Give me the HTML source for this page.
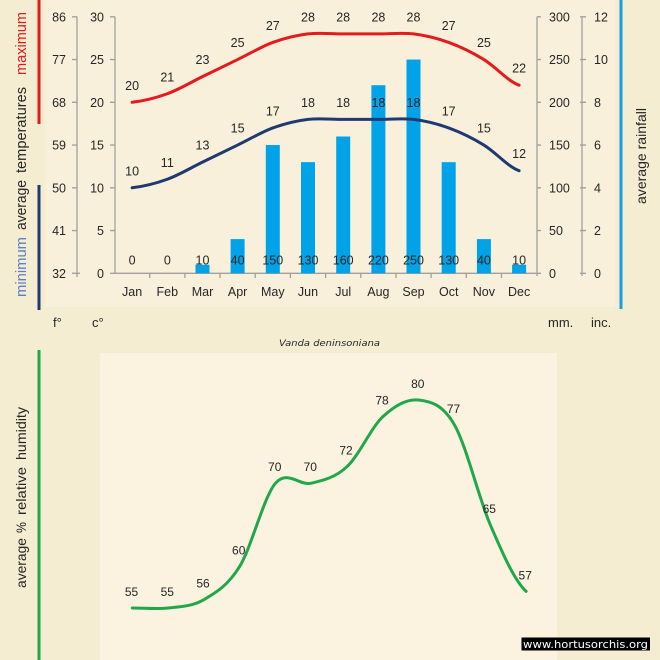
<!DOCTYPE html>
<html><head><meta charset="utf-8"><style>
html,body{margin:0;padding:0;background:#f4edd2;overflow:hidden;}
svg{display:block;}
</style></head><body>
<svg width="660" height="660" viewBox="0 0 660 660" xmlns="http://www.w3.org/2000/svg" font-family="'Liberation Sans', sans-serif">
<rect x="0" y="0" width="660" height="660" fill="#f4edd2"/>
<rect x="45" y="0" width="570" height="307" fill="#f9f0dc"/>
<rect x="100" y="353" width="457" height="307" fill="#fbf2e0"/>

<!-- colored side bars -->
<rect x="37.5" y="0" width="3" height="124" fill="#e41a1c"/>
<rect x="37.5" y="185" width="3" height="125" fill="#1f3a70"/>
<rect x="619.5" y="0" width="3" height="309" fill="#1aa0e0"/>
<rect x="37.5" y="350" width="3" height="310" fill="#20a84a"/>

<!-- rotated titles -->
<g font-size="14.5" fill="#262626">
<text transform="translate(26,297) rotate(-90)" textLength="60" lengthAdjust="spacingAndGlyphs" fill="#5b7fc9">minimum</text>
<text transform="translate(26,230) rotate(-90)" textLength="50" lengthAdjust="spacingAndGlyphs">average</text>
<text transform="translate(26,173) rotate(-90)" textLength="86" lengthAdjust="spacingAndGlyphs">temperatures</text>
<text transform="translate(26,75) rotate(-90)" textLength="63" lengthAdjust="spacingAndGlyphs" fill="#e41a1c">maximum</text>
</g>
<text transform="translate(646,204) rotate(-90)" font-size="14" fill="#262626" textLength="96" lengthAdjust="spacingAndGlyphs">average  rainfall</text>
<g font-size="14" fill="#262626">
<text transform="translate(26,588) rotate(-90)" textLength="50" lengthAdjust="spacingAndGlyphs">average</text>
<text transform="translate(26,533) rotate(-90)" textLength="11" lengthAdjust="spacingAndGlyphs">%</text>
<text transform="translate(26,515) rotate(-90)" textLength="48" lengthAdjust="spacingAndGlyphs">relative</text>
<text transform="translate(26,460) rotate(-90)" textLength="53" lengthAdjust="spacingAndGlyphs">humidity</text>
</g>

<!-- axes -->
<g stroke="#a0a0a0" stroke-width="1.3" fill="none">
<line x1="77" y1="16.8" x2="77" y2="277"/>
<line x1="115" y1="16.8" x2="115" y2="273.3"/>
<line x1="537" y1="16.8" x2="537" y2="276"/>
<line x1="582" y1="16.8" x2="582" y2="276"/>
<line x1="110" y1="273.3" x2="541" y2="273.3"/>
<path d="M72,16.8H77M72,59.55H77M72,102.3H77M72,145.05H77M72,187.8H77M72,230.55H77M72,273.3H80"/>
<path d="M110,16.8H115M110,59.55H115M110,102.3H115M110,145.05H115M110,187.8H115M110,230.55H115"/>
<path d="M537,16.8H541M537,59.55H541M537,102.3H541M537,145.05H541M537,187.8H541M537,230.55H541"/>
<path d="M580,16.8H586M580,59.55H586M580,102.3H586M580,145.05H586M580,187.8H586M580,230.55H586M580,273.3H586"/>
<path d="M149.7,273.3V278M184.9,273.3V278M220,273.3V278M255.2,273.3V278M290.4,273.3V278M325.6,273.3V278M360.8,273.3V278M396,273.3V278M431.1,273.3V278M466.3,273.3V278M501.5,273.3V278"/>
</g>

<!-- axis labels -->
<g font-size="12.5" fill="#262626" text-anchor="end">
<text x="66" y="21.3">86</text><text x="66" y="64">77</text><text x="66" y="106.8">68</text><text x="66" y="149.5">59</text><text x="66" y="192.3">50</text><text x="66" y="235">41</text><text x="66" y="277.8">32</text>
<text x="104" y="21.3">30</text><text x="104" y="64">25</text><text x="104" y="106.8">20</text><text x="104" y="149.5">15</text><text x="104" y="192.3">10</text><text x="104" y="235">5</text><text x="104" y="277.8">0</text>
</g>
<g font-size="12.5" fill="#262626">
<text x="549" y="21.3">300</text><text x="549" y="64">250</text><text x="549" y="106.8">200</text><text x="549" y="149.5">150</text><text x="549" y="192.3">100</text><text x="549" y="235">50</text><text x="549" y="277.8">0</text>
<text x="594" y="21.3">12</text><text x="594" y="64">10</text><text x="594" y="106.8">8</text><text x="594" y="149.5">6</text><text x="594" y="192.3">4</text><text x="594" y="235">2</text><text x="594" y="277.8">0</text>
</g>
<g font-size="12.5" fill="#262626" text-anchor="middle">
<text x="132.1" y="296">Jan</text><text x="167.3" y="296">Feb</text><text x="202.5" y="296">Mar</text><text x="237.6" y="296">Apr</text><text x="272.8" y="296">May</text><text x="308" y="296">Jun</text><text x="343.2" y="296">Jul</text><text x="378.4" y="296">Aug</text><text x="413.5" y="296">Sep</text><text x="448.7" y="296">Oct</text><text x="483.9" y="296">Nov</text><text x="519.1" y="296">Dec</text>
</g>
<g font-size="13" fill="#262626">
<text x="53" y="327">f°</text><text x="92" y="327">c°</text><text x="548" y="327">mm.</text><text x="591" y="327">inc.</text>
</g>

<!-- bars -->
<g fill="#00a2e8">
<rect x="195.5" y="264.75" width="14" height="8.55"/>
<rect x="230.6" y="239.1" width="14" height="34.2"/>
<rect x="265.8" y="145.05" width="14" height="128.25"/>
<rect x="301" y="162.15" width="14" height="111.15"/>
<rect x="336.2" y="136.5" width="14" height="136.8"/>
<rect x="371.4" y="85.2" width="14" height="188.1"/>
<rect x="406.5" y="59.55" width="14" height="213.75"/>
<rect x="441.7" y="162.15" width="14" height="111.15"/>
<rect x="476.9" y="239.1" width="14" height="34.2"/>
<rect x="512.1" y="264.75" width="14" height="8.55"/>
</g>

<!-- temperature lines -->
<path d="M132.1,102.3 C143.8,100.9 155.6,98.0 167.3,93.75 C179.0,89.5 190.7,82.4 202.5,76.65 C214.2,71.0 225.9,65.3 237.6,59.55 C249.4,53.9 261.1,46.7 272.8,42.45 C284.6,38.2 296.3,35.3 308.0,33.9 C319.7,32.5 331.5,33.9 343.2,33.9 C354.9,33.9 366.6,33.9 378.4,33.9 C390.1,33.9 401.8,32.5 413.5,33.9 C425.3,35.3 437.0,38.2 448.7,42.45 C460.5,46.7 472.2,52.4 483.9,59.55 C495.6,66.7 507.4,80.9 519.1,85.2" fill="none" stroke="#e41a1c" stroke-width="3" stroke-linecap="round"/>
<path d="M132.1,102.3 C143.8,100.9 155.6,98.0 167.3,93.75 C179.0,89.5 190.7,82.4 202.5,76.65 C214.2,71.0 225.9,65.3 237.6,59.55 C249.4,53.9 261.1,46.7 272.8,42.45 C284.6,38.2 296.3,35.3 308.0,33.9 C319.7,32.5 331.5,33.9 343.2,33.9 C354.9,33.9 366.6,33.9 378.4,33.9 C390.1,33.9 401.8,32.5 413.5,33.9 C425.3,35.3 437.0,38.2 448.7,42.45 C460.5,46.7 472.2,52.4 483.9,59.55 C495.6,66.7 507.4,80.9 519.1,85.2" transform="translate(0,85.5)" fill="none" stroke="#1f3a70" stroke-width="3" stroke-linecap="round"/>

<!-- data labels top -->
<g font-size="12.5" fill="#262626" text-anchor="middle">
<text x="132.1" y="89.8">20</text><text x="167.3" y="81.25">21</text><text x="202.5" y="64.15">23</text><text x="237.6" y="47.05">25</text><text x="272.8" y="29.95">27</text><text x="308" y="21.4">28</text><text x="343.2" y="21.4">28</text><text x="378.4" y="21.4">28</text><text x="413.5" y="21.4">28</text><text x="448.7" y="29.95">27</text><text x="483.9" y="47.05">25</text><text x="519.1" y="72.7">22</text>
<text x="132.1" y="175.3">10</text><text x="167.3" y="166.75">11</text><text x="202.5" y="149.65">13</text><text x="237.6" y="132.55">15</text><text x="272.8" y="115.45">17</text><text x="308" y="106.9">18</text><text x="343.2" y="106.9">18</text><text x="378.4" y="106.9">18</text><text x="413.5" y="106.9">18</text><text x="448.7" y="115.45">17</text><text x="483.9" y="132.55">15</text><text x="519.1" y="158.2">12</text>
<text x="132.1" y="264.5">0</text><text x="167.3" y="264.5">0</text><text x="202.5" y="264.5">10</text><text x="237.6" y="264.5">40</text><text x="272.8" y="264.5">150</text><text x="308" y="264.5">130</text><text x="343.2" y="264.5">160</text><text x="378.4" y="264.5">220</text><text x="413.5" y="264.5">250</text><text x="448.7" y="264.5">130</text><text x="483.9" y="264.5">40</text><text x="519.1" y="264.5">10</text>
</g>

<!-- title -->
<text x="329.5" y="346" font-family="'DejaVu Sans', sans-serif" font-style="italic" font-size="8.5" fill="#262626" text-anchor="middle" textLength="101" lengthAdjust="spacingAndGlyphs">Vanda deninsoniana</text>

<!-- humidity line -->
<path d="M132.3,608 C144.2,608 156.2,609.4 168.1,608 C180.0,606.6 192.0,606.6 203.9,599.68 C215.8,592.7 227.8,585.8 239.7,566.4 C251.6,547.0 263.6,497.1 275.5,483.2 C287.4,469.3 299.4,486.0 311.3,483.2 C323.2,480.4 335.2,477.7 347.1,466.56 C359.0,455.5 371.0,427.7 382.9,416.64 C394.8,405.5 406.8,398.6 418.7,400 C430.6,401.4 442.6,404.2 454.5,424.96 C466.4,445.8 478.4,497.1 490.3,524.8 C502.2,552.5 514.2,580.3 526.1,591.36" fill="none" stroke="#20a84a" stroke-width="3" stroke-linecap="round"/>
<g font-size="12" fill="#262626" text-anchor="middle">
<text x="131.5" y="596">55</text><text x="167.3" y="596">55</text><text x="203" y="587.7">56</text><text x="238.7" y="554.4">60</text><text x="274.7" y="471.2">70</text><text x="310.3" y="471.2">70</text><text x="346" y="454.6">72</text><text x="382" y="404.6">78</text><text x="417.8" y="388">80</text><text x="453.5" y="413">77</text><text x="489.3" y="512.8">65</text><text x="525.2" y="579.4">57</text>
</g>

<!-- watermark -->
<rect x="521.5" y="637.5" width="128.5" height="13" fill="#000"/>
<text x="523" y="648" font-family="'DejaVu Sans', sans-serif" font-size="10.5" fill="#fff" textLength="125" lengthAdjust="spacingAndGlyphs">www.hortusorchis.org</text>
</svg>
</body></html>
